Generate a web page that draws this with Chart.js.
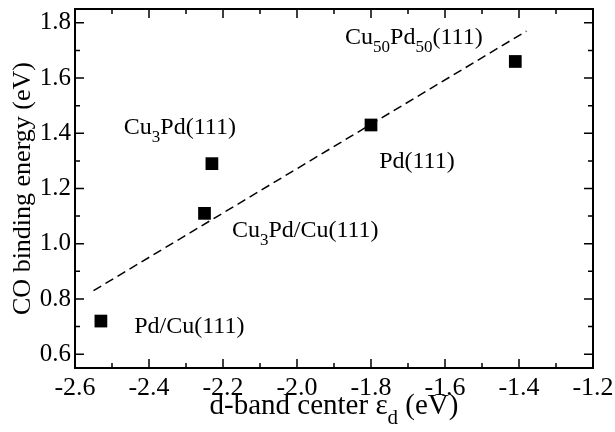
<!DOCTYPE html>
<html>
<head>
<meta charset="utf-8">
<script src="https://cdn.jsdelivr.net/npm/chart.js@4"></script>
<style>
body { margin: 0; background: #fff; }
#wrap { width: 615px; height: 432px; }
</style>
</head>
<body>
<div id="wrap"><canvas id="chart"></canvas></div>
<script>
// surfaces and their d-band center / CO binding energy
let surfaces = ['Pd/Cu(111)', 'Cu_{3}Pd/Cu(111)', 'Cu_{3}Pd(111)', 'Pd(111)', 'Cu_{50}Pd_{50}(111)'];
let dBandCenter = [-2.53, -2.25, -2.23, -1.80, -1.41];
let bindingEnergy = [0.72, 1.11, 1.29, 1.43, 1.66];

// dashed linear fit
let fitX = [-2.55, -1.38];
let fitY = [0.83, 1.77];

// where each label text starts (left edge, baseline) in data units
let labelX = [-2.44, -2.176, -2.468, -1.778, -1.87];
let labelY = [0.678, 1.023, 1.396, 1.274, 1.724];

let xTicks = [-2.6, -2.4, -2.2, -2.0, -1.8, -1.6, -1.4, -1.2];
let yTicks = [0.6, 0.8, 1.0, 1.2, 1.4, 1.6, 1.8];

const FONT = '"Liberation Serif", "Times New Roman", serif';

function splitRich(str) {
    return str.split(/(_\{[^}]*\})/).filter(s => s.length);
}

// draw text with _{sub} parts, returns end x
function drawRich(ctx, str, x, y, size) {
    for (let p of splitRich(str)) {
        if (p.startsWith('_{')) {
            let t = p.slice(2, -1);
            ctx.font = Math.round(size * 0.72) + 'px ' + FONT;
            ctx.fillText(t, x, y + size * 0.33);
            x += ctx.measureText(t).width;
        } else {
            ctx.font = size + 'px ' + FONT;
            ctx.fillText(p, x, y);
            x += ctx.measureText(p).width;
        }
    }
    return x;
}

function richWidth(ctx, str, size) {
    let w = 0;
    for (let p of splitRich(str)) {
        if (p.startsWith('_{')) {
            ctx.font = Math.round(size * 0.72) + 'px ' + FONT;
            w += ctx.measureText(p.slice(2, -1)).width;
        } else {
            ctx.font = size + 'px ' + FONT;
            w += ctx.measureText(p).width;
        }
    }
    return w;
}

const framePlugin = {
    id: 'frame',
    afterDraw(chart) {
        let ctx = chart.ctx;
        let a = chart.chartArea;
        let xs = chart.scales.x, ys = chart.scales.y;
        ctx.save();
        ctx.strokeStyle = '#000';
        ctx.fillStyle = '#000';

        // ticks on all four sides, pointing in
        ctx.lineWidth = 1.5;
        ctx.beginPath();
        for (let i = 0; i <= 14; i++) {
            let px = xs.getPixelForValue(-2.6 + i * 0.1);
            let len = i % 2 === 0 ? 9 : 5;
            ctx.moveTo(px, a.bottom); ctx.lineTo(px, a.bottom - len);
            ctx.moveTo(px, a.top); ctx.lineTo(px, a.top + len);
        }
        for (let i = 0; i <= 12; i++) {
            let py = ys.getPixelForValue(0.6 + i * 0.1);
            let len = i % 2 === 0 ? 9 : 5;
            ctx.moveTo(a.left, py); ctx.lineTo(a.left + len, py);
            ctx.moveTo(a.right, py); ctx.lineTo(a.right - len, py);
        }
        ctx.stroke();

        ctx.lineWidth = 2;
        ctx.strokeRect(a.left, a.top, a.right - a.left, a.bottom - a.top);

        // point labels
        ctx.textBaseline = 'alphabetic';
        ctx.textAlign = 'left';
        for (let i = 0; i < surfaces.length; i++) {
            drawRich(ctx, surfaces[i], xs.getPixelForValue(labelX[i]), ys.getPixelForValue(labelY[i]), 24);
        }

        // x axis title
        let xt = 'd-band center \u03b5_{d} (eV)';
        let w = richWidth(ctx, xt, 29);
        drawRich(ctx, xt, (a.left + a.right) / 2 - w / 2, 414, 29);

        // y axis title
        ctx.translate(30, (a.top + a.bottom) / 2);
        ctx.rotate(-Math.PI / 2);
        ctx.textAlign = 'center';
        ctx.font = '26px ' + FONT;
        ctx.fillText('CO binding energy (eV)', 0, 0);
        ctx.restore();
    }
};

function noPad(s) {
    s.paddingTop = 0; s.paddingBottom = 0;
    s.paddingLeft = 0; s.paddingRight = 0;
}

new Chart(document.getElementById('chart'), {
    type: 'scatter',
    data: {
        datasets: [
            {
                label: 'fit',
                type: 'line',
                data: fitX.map((x, i) => ({ x: x, y: fitY[i] })),
                borderColor: '#000',
                borderWidth: 1.5,
                borderDash: [9, 5],
                pointRadius: 0,
                fill: false
            },
            {
                label: 'surfaces',
                data: dBandCenter.map((x, i) => ({ x: x, y: bindingEnergy[i] })),
                pointStyle: 'rect',
                pointRadius: 9,
                backgroundColor: '#000',
                borderColor: '#000',
                borderWidth: 0
            }
        ]
    },
    options: {
        responsive: true,
        maintainAspectRatio: false,
        animation: false,
        layout: { padding: { top: 7, right: 22, left: 0, bottom: 0 } },
        plugins: { legend: { display: false }, tooltip: { enabled: false } },
        scales: {
            x: {
                type: 'linear',
                min: -2.6,
                max: -1.2,
                grid: { display: false, drawTicks: false },
                border: { display: false },
                afterBuildTicks: s => { s.ticks = xTicks.map(v => ({ value: v })); },
                afterFit: s => { s.height = 64; noPad(s); },
                ticks: {
                    color: '#000',
                    padding: 5,
                    maxRotation: 0,
                    autoSkip: false,
                    font: { family: FONT, size: 26 },
                    callback: v => v.toFixed(1)
                }
            },
            y: {
                type: 'linear',
                min: 0.55,
                max: 1.85,
                grid: { display: false, drawTicks: false },
                border: { display: false },
                afterBuildTicks: s => { s.ticks = yTicks.map(v => ({ value: v })); },
                afterFit: s => { s.width = 75; noPad(s); },
                ticks: {
                    color: '#000',
                    padding: 4,
                    autoSkip: false,
                    font: { family: FONT, size: 25 },
                    callback: v => v.toFixed(1)
                }
            }
        }
    },
    plugins: [framePlugin]
});
</script>
</body>
</html>
